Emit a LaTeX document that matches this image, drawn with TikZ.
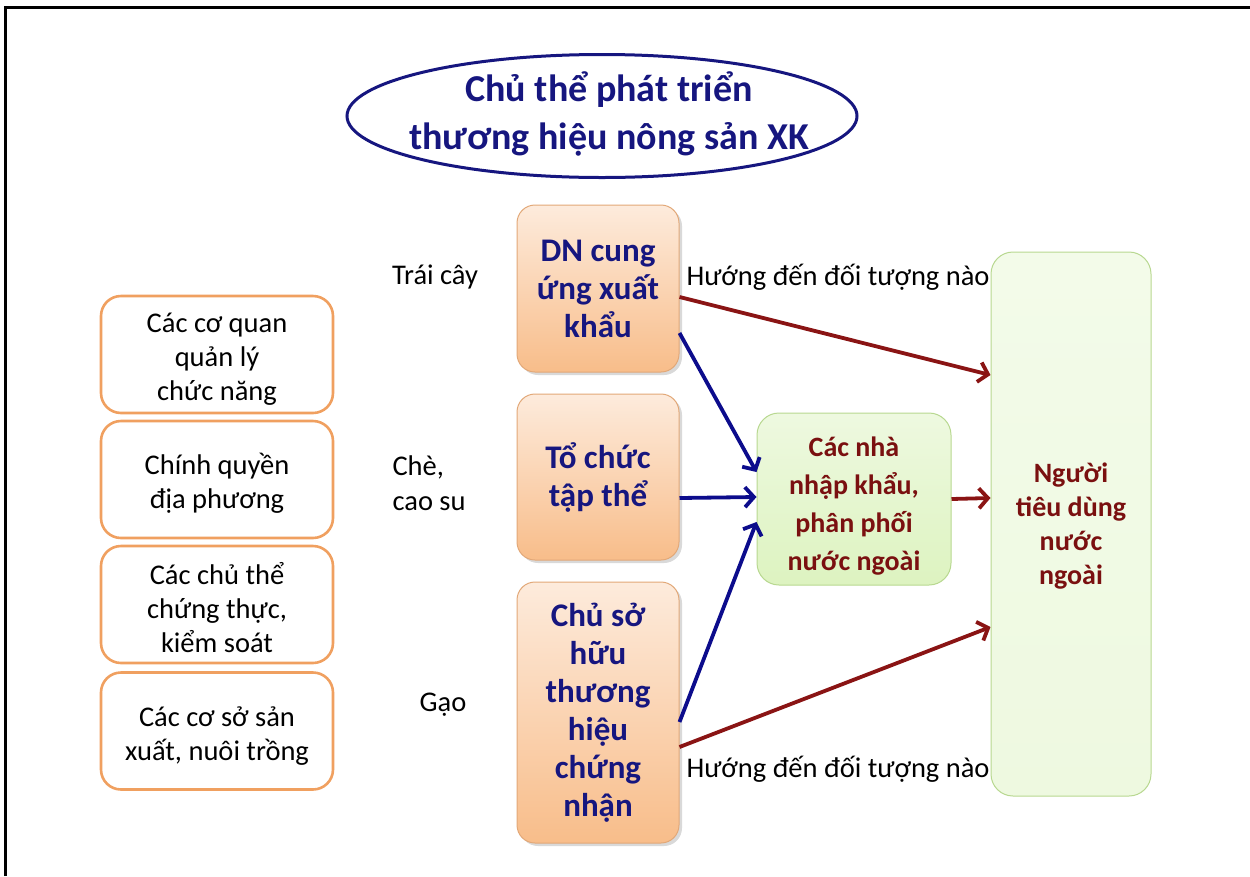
\documentclass[tikz,border=0pt]{standalone}
\usepackage{fontspec}
\setmainfont{Carlito}
\usetikzlibrary{arrows.meta,shapes.geometric,shadows}

\definecolor{navy}{HTML}{16167F}
\definecolor{arrowblue}{HTML}{0C0C8C}
\definecolor{darkred}{HTML}{8A1414}
\definecolor{titlered}{HTML}{7A1010}
\definecolor{orangeline}{HTML}{F0A060}
\definecolor{peachtop}{HTML}{FDEBDC}
\definecolor{peachbot}{HTML}{F8BD8A}
\definecolor{peachline}{HTML}{E2A878}
\definecolor{greentop}{HTML}{EEF9E0}
\definecolor{greenbot}{HTML}{DDF3C0}
\definecolor{greenline}{HTML}{B8D890}

\tikzset{
  agency/.style={draw=orangeline, line width=2.6pt, fill=white, rounded corners=20pt,
    minimum width=232pt, minimum height=117pt, align=center,
    font=\fontsize{28.5}{34}\selectfont},
  actor/.style={draw=peachline, line width=1pt, top color=peachtop, bottom color=peachbot,
    rounded corners=18pt, minimum width=162pt, align=center, text=navy,
    font=\bfseries\fontsize{33}{38}\selectfont,
    drop shadow={shadow xshift=3pt, shadow yshift=-3pt, opacity=0.25, fill=black!60}},
  market/.style={draw=greenline, line width=1pt, top color=greentop, bottom color=greenbot,
    rounded corners=22pt, align=center, text=titlered,
    font=\bfseries\fontsize{28}{38}\selectfont},
  plain/.style={font=\fontsize{28.5}{35}\selectfont, align=left},
  redarrow/.style={draw=darkred, line width=3.8pt, -{Straight Barb[length=9pt,width=20pt]}},
  bluearrow/.style={draw=arrowblue, line width=3.8pt, -{Straight Barb[length=9pt,width=20pt]}}
}

% tall invisible strut that lowers a text block inside its box
\newcommand{\lowerstrut}[1]{\rule{0pt}{#1}}

\begin{document}
\begin{tikzpicture}[x=1pt,y=-1pt]
\useasboundingbox (0,0) rectangle (1250,876);

% outer frame (only top and left edges fall inside the page)
\draw[line width=3pt] (5,876) -- (5,7) -- (1250,7);

% title
\node[align=center, text=navy, font=\bfseries\fontsize{38}{48}\selectfont]
  (title) at (609,114) {Chủ thể phát triển\\thương hiệu nông sản XK};
\draw[navy, line width=3pt] (602,116) ellipse [x radius=255, y radius=61.5];

% supporting bodies on the left
\node[agency] (a1) at (217,354.5) {\lowerstrut{29pt}Các cơ quan\\quản lý\\chức năng};
\node[agency] (a2) at (217,479.5) {\lowerstrut{29pt}Chính quyền\\địa phương};
\node[agency] (a3) at (217,604.5) {\lowerstrut{29pt}Các chủ thể\\chứng thực,\\kiểm soát};
\node[agency] (a4) at (217,731) {\lowerstrut{29pt}Các cơ sở sản\\xuất, nuôi trồng};

% product labels
\node[plain] (l1) at (435,277) {Trái cây};
\node[plain, anchor=west] (l2) at (389,483) {Chè,\\cao su};
\node[plain] (l3) at (443,705) {Gạo};

% brand actors
\node[actor, minimum height=167pt] (dn)  at (598,288.5) {DN cung\\ứng xuất\\khẩu};
\node[actor, minimum height=166pt] (org) at (598,477) {Tổ chức\\tập thể};
\node[actor, minimum height=261pt] (own) at (598,712.5) {Chủ sở\\hữu\\thương\\hiệu\\chứng\\nhận};

% markets
\node[market, minimum width=194pt, minimum height=172pt] (mid) at (854,499)
  {\lowerstrut{34pt}Các nhà\\nhập khẩu,\\phân phối\\nước ngoài};
\node[market, minimum width=160pt, minimum height=544pt, top color=greentop!70!white,
      bottom color=greentop, font=\bfseries\fontsize{28}{34}\selectfont] (cons) at (1071,524)
  {\lowerstrut{24pt}Người\\tiêu dùng\\nước\\ngoài};

% question labels
\node[plain] (q1) at (838,277) {Hướng đến đối tượng nào};
\node[plain] (q2) at (838,769) {Hướng đến đối tượng nào};

% flows towards importers
\draw[bluearrow] ([yshift=-44.5pt]dn.east) -- ([yshift=27pt]mid.west);
\draw[bluearrow] ([yshift=-21pt]org.east) -- ([yshift=2pt]mid.west);
\draw[bluearrow] ([yshift=-9.5pt]own.east) -- ([yshift=-23pt]mid.west);

% flows towards consumers
\draw[redarrow] ([yshift=-8.5pt]dn.east) -- ([yshift=149pt]cons.west);
\draw[redarrow] (mid.east) -- ([yshift=26pt]cons.west);
\draw[redarrow] ([yshift=-34.5pt]own.east) -- ([yshift=-103pt]cons.west);
\end{tikzpicture}
\end{document}
